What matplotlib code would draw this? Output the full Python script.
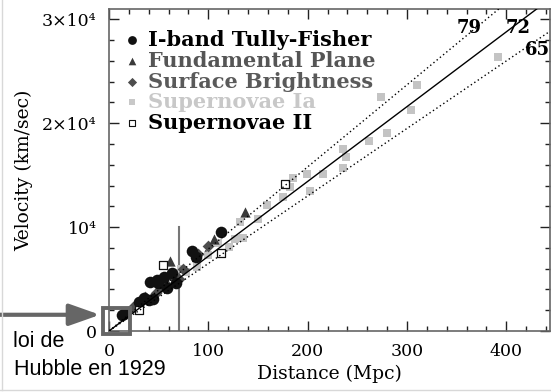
#!/usr/bin/env python3
"""Hubble diagram: velocity vs distance with H0 = 65 / 72 / 79 lines."""

import matplotlib
matplotlib.use('Agg')
import matplotlib.pyplot as plt
from matplotlib import font_manager
from matplotlib.lines import Line2D
from matplotlib.patches import Rectangle
from matplotlib.ticker import MultipleLocator, FixedLocator, FixedFormatter

# I-band Tully-Fisher (Mpc, km/s)
tf_dist = [13, 16, 30, 35, 40, 44, 41, 48, 55, 63, 67, 49, 58, 84, 88, 113]
tf_vel = [1500, 1750, 2750, 3150, 3000, 3050, 4700, 4950, 5200, 5600, 4600, 4600, 4100, 7700, 7100, 9500]

# Fundamental Plane
fp_dist = [61, 106, 137]
fp_vel = [6700, 8900, 11500]

# Surface Brightness
sb_dist = [24, 36, 47, 52, 57, 62, 70, 75, 90, 100]
sb_vel = [2300, 3300, 3700, 4200, 4500, 5400, 5000, 6000, 7400, 8200]

# Supernovae Ia
sn1_dist = [392, 310, 274, 304, 280, 262, 236, 239, 236, 215, 199, 185, 202, 182, 175,
            159, 150, 132, 135, 127, 121, 89, 78, 72, 100, 110]
sn1_vel = [26350, 23650, 22500, 21250, 19040, 18270, 17500, 16730, 15670, 15100, 15100,
           14710, 13460, 13850, 12900, 12100, 10800, 10500, 8950, 8850, 8100, 6150,
           5700, 6000, 7300, 8500]

# Supernovae II
sn2_dist = [177, 113, 54, 30]
sn2_vel = [14200, 7500, 6350, 2050]

# Hubble constants (km/s/Mpc)
h0_values = [79, 72, 65]
h0_label_pos = [(363, 29180), (412, 29180), (431, 27050)]

legend_labels = ['I-band Tully-Fisher', 'Fundamental Plane', 'Surface Brightness',
                 'Supernovae Ia', 'Supernovae II']
legend_colors = ['#000000', '#555555', '#5a5a5a', '#c8c8c8', '#000000']
legend_y = [28000, 26000, 24000, 22000, 20000]

y_ticks = [0, 10000, 20000, 30000]
y_ticklabels = ['0', '10⁴', '2×10⁴', '3×10⁴']

X_MAX = 444
Y_MAX = 31000
SERIF = ['DejaVu Serif']

_installed = {f.name for f in font_manager.fontManager.ttflist}
CAPTION_FONT = 'Liberation Sans Narrow' if 'Liberation Sans Narrow' in _installed else 'Liberation Sans'
CAPTION_SIZE = 18 if CAPTION_FONT == 'Liberation Sans Narrow' else 15.5


def main():
    fig = plt.figure(figsize=(5.51, 3.92), dpi=100)
    ax = fig.add_axes([109 / 551, 61 / 392, (550 - 109) / 551, (383 - 61) / 392])
    ax.set_xlim(0, X_MAX)
    ax.set_ylim(0, Y_MAX)

    # data markers
    ax.scatter(sn1_dist, sn1_vel, marker='s', s=30, color='#c4c4c4', lw=0, zorder=2)
    ax.scatter(sb_dist, sb_vel, marker='D', s=36, color='#4d4d4d', lw=0, zorder=2)
    ax.scatter(fp_dist, fp_vel, marker='^', s=55, color='#3a3a3a', lw=0, zorder=2)
    ax.scatter(tf_dist, tf_vel, marker='o', s=70, color='#111111', lw=0, zorder=2)
    ax.scatter(sn2_dist, sn2_vel, marker='s', s=26, facecolor='white',
               edgecolor='#111111', lw=0.9, zorder=3)

    # Hubble lines
    xs = [0, X_MAX]
    for h0, (lx, ly) in zip(h0_values, h0_label_pos):
        style = '-' if h0 == 72 else (0, (1, 2))
        ax.plot(xs, [0, h0 * X_MAX], color='black', lw=1.0, ls=style, zorder=4)
        ax.text(lx, ly, str(h0), family=SERIF, weight='bold', fontsize=13,
                ha='center', va='center', zorder=5)

    # vertical marker near 70 Mpc
    ax.plot([70, 70], [0, 10000], color='#777777', lw=1.5, zorder=1)

    # legend drawn by hand
    ax.scatter([23], [legend_y[0]], marker='o', s=40, color='#111111', lw=0)
    ax.scatter([23], [legend_y[1]], marker='^', s=30, color='#3a3a3a', lw=0)
    ax.scatter([23], [legend_y[2]], marker='D', s=22, color='#4d4d4d', lw=0)
    ax.scatter([23], [legend_y[3]], marker='s', s=18, color='#c8c8c8', lw=0)
    ax.scatter([23], [legend_y[4]], marker='s', s=18, facecolor='white',
               edgecolor='#111111', lw=0.8)
    for lab, col, ly in zip(legend_labels, legend_colors, legend_y):
        ax.text(39, ly, lab, family=SERIF, weight='bold', fontsize=15,
                color=col, va='center', ha='left')

    # ticks and frame
    ax.xaxis.set_major_locator(MultipleLocator(100))
    ax.xaxis.set_minor_locator(MultipleLocator(20))
    ax.yaxis.set_major_locator(FixedLocator(y_ticks))
    ax.yaxis.set_major_formatter(FixedFormatter(y_ticklabels))
    ax.yaxis.set_minor_locator(MultipleLocator(2000))
    ax.tick_params(which='both', direction='in', top=True, right=True, color='#222222')
    ax.tick_params(which='major', length=7.5, width=1.0, pad=9)
    ax.tick_params(which='minor', length=3.8, width=1.0)
    for lab in ax.get_xticklabels() + ax.get_yticklabels():
        lab.set_family(SERIF)
        lab.set_fontsize(12.5)
    for sp in ax.spines.values():
        sp.set_color('#666666')
        sp.set_linewidth(1.2)

    ax.set_xlabel('Distance (Mpc)', family=SERIF, fontsize=13.5, labelpad=3)
    ax.set_ylabel('Velocity (km/sec)', family=SERIF, fontsize=13.5, labelpad=6)

    # 1929 box + arrow + caption
    ax.add_patch(Rectangle((-6, -300), 27, 2500, fill=False, edgecolor='#666666',
                           lw=2.8, clip_on=False, zorder=6))
    ax.annotate('', xy=(100 / 551, 0.197), xytext=(0, 0.197),
                xycoords='figure fraction', textcoords='figure fraction',
                arrowprops=dict(arrowstyle='-|>,head_length=0.85,head_width=0.3',
                                color='#666666', lw=3.0, mutation_scale=22,
                                shrinkA=0, shrinkB=0))
    fig.text(13 / 551, 0.115, 'loi de', family=CAPTION_FONT, fontsize=CAPTION_SIZE,
             va='baseline', ha='left')
    fig.text(14 / 551, 0.043, 'Hubble en 1929', family=CAPTION_FONT, fontsize=CAPTION_SIZE,
             va='baseline', ha='left')

    # faint screenshot border
    fig.add_artist(Line2D([2 / 551, 2 / 551], [0.005, 1], color='#d8d8d8', lw=1))
    fig.add_artist(Line2D([0, 1], [2 / 392, 2 / 392], color='#d8d8d8', lw=1))

    fig.savefig('out.png', dpi=100)


if __name__ == '__main__':
    main()
